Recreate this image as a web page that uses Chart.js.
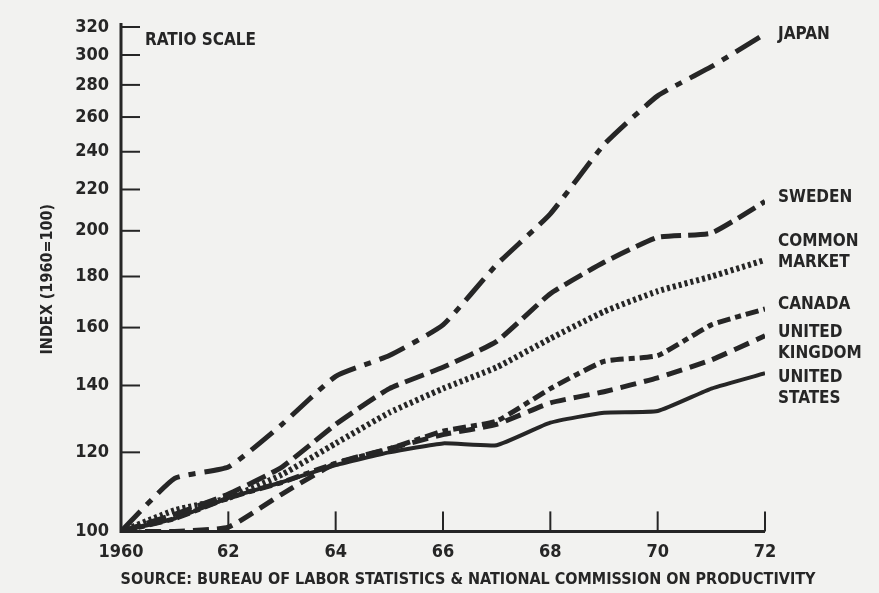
<!DOCTYPE html>
<html>
<head>
<meta charset="utf-8">
<script src="https://cdn.jsdelivr.net/npm/chart.js@4/dist/chart.umd.min.js"></script>
<style>
  body { margin: 0; background: #f2f2f0; }
  #wrap { width: 879px; height: 593px; position: relative; }
</style>
</head>
<body>
<div id="wrap"><canvas id="my-chart"></canvas></div>
<script>
const years = [1960, 1961, 1962, 1963, 1964, 1965, 1966, 1967, 1968, 1969, 1970, 1971, 1972];
const japan = [100, 113, 116, 128, 143, 150, 161, 185, 208, 244, 273, 292, 315];
const sweden = [100, 104, 109, 116, 128, 139, 146, 155, 173, 186, 197, 199, 214];
const commonMarket = [100, 105, 108, 114, 122.5, 131.5, 139, 146, 156, 166, 174, 180, 187];
const canada = [100, 103, 108, 112, 117, 121, 126, 129, 139, 148, 150, 161, 167];
const unitedKingdom = [100, 100, 101, 109, 117, 121, 125, 128, 134.5, 138, 142.5, 148.5, 157];
const unitedStates = [100, 103, 108, 112, 116.5, 120, 122.5, 122, 128.5, 131.5, 132, 139, 144];
const yTicks = [100, 120, 140, 160, 180, 200, 220, 240, 260, 280, 300, 320];
const xTicks = [1960, 1962, 1964, 1966, 1968, 1970, 1972];
const xTickLabels = ['1960', '62', '64', '66', '68', '70', '72'];
const seriesLabels = [['JAPAN'], ['SWEDEN'], ['COMMON', 'MARKET'], ['CANADA'], ['UNITED', 'KINGDOM'], ['UNITED', 'STATES']];

const ink = '#262626';
const fontFam = "'Liberation Sans Narrow', 'DejaVu Sans Condensed', Arial, sans-serif";

function pts(arr) {
  return arr.map((v, i) => ({ x: years[i], y: v }));
}

function ds(arr, dash, width) {
  return {
    data: pts(arr),
    borderColor: ink,
    borderWidth: width,
    borderDash: dash,
    borderCapStyle: 'butt',
    pointRadius: 0,
    tension: 0.15,
    fill: false
  };
}

// label offsets from the end of each line (pixels)
const labelNudge = [1, -4, -8, -4, 7, 15];

const decorPlugin = {
  id: 'decor',
  afterDraw(chart) {
    const ctx = chart.ctx;
    const xs = chart.scales.x, ys = chart.scales.y;
    const area = chart.chartArea;
    ctx.save();
    ctx.strokeStyle = ink;
    ctx.lineWidth = 2;
    // inward tick marks
    yTicks.forEach(v => {
      const py = ys.getPixelForValue(v);
      ctx.beginPath();
      ctx.moveTo(area.left, py);
      ctx.lineTo(area.left + 19, py);
      ctx.stroke();
    });
    xTicks.forEach(v => {
      const px = xs.getPixelForValue(v);
      ctx.beginPath();
      ctx.moveTo(px, area.bottom);
      ctx.lineTo(px, area.bottom - 20);
      ctx.stroke();
    });
    // axis lines
    ctx.lineWidth = 3;
    ctx.beginPath();
    ctx.moveTo(area.left, area.top - 4);
    ctx.lineTo(area.left, area.bottom);
    ctx.lineTo(area.right, area.bottom);
    ctx.stroke();

    ctx.fillStyle = ink;
    ctx.font = 'bold 17px ' + fontFam;
    ctx.textBaseline = 'middle';
    ctx.textAlign = 'left';
    // line labels at the right end
    chart.data.datasets.forEach((d, i) => {
      const last = d.data[d.data.length - 1];
      const py = ys.getPixelForValue(last.y) + labelNudge[i];
      const lines = seriesLabels[i];
      const startY = py - (lines.length - 1) * 21 / 2;
      lines.forEach((t, k) => ctx.fillText(t, area.right + 13, startY + k * 21));
    });
    ctx.fillText('RATIO SCALE', area.left + 24, 41);
    ctx.font = 'bold 16px ' + fontFam;
    ctx.textAlign = 'center';
    ctx.fillText('SOURCE: BUREAU OF LABOR STATISTICS & NATIONAL COMMISSION ON PRODUCTIVITY', 468, 580);
    ctx.restore();
  }
};

const ctx = document.getElementById('my-chart').getContext('2d');
const chart = new Chart(ctx, {
  type: 'line',
  data: {
    datasets: [
      ds(japan, [28, 9, 7, 9], 5),
      ds(sweden, [20, 7], 5),
      ds(commonMarket, [3, 3], 6),
      ds(canada, [13, 5, 6, 5], 5),
      ds(unitedKingdom, [16, 8], 5),
      ds(unitedStates, [], 4)
    ]
  },
  options: {
    responsive: true,
    maintainAspectRatio: false,
    animation: false,
    layout: { padding: { top: 27, right: 114, bottom: 20, left: 38 } },
    plugins: { legend: { display: false }, tooltip: { enabled: false } },
    scales: {
      x: {
        type: 'linear',
        min: 1960,
        max: 1972,
        afterBuildTicks: s => { s.ticks = xTicks.map(v => ({ value: v })); },
        ticks: {
          color: ink,
          font: { family: fontFam, size: 18, weight: 'bold' },
          padding: 10,
          maxRotation: 0,
          callback: (v) => xTickLabels[xTicks.indexOf(v)]
        },
        grid: { display: false, drawTicks: false },
        border: { display: false }
      },
      y: {
        type: 'logarithmic',
        min: 100,
        max: 320,
        afterBuildTicks: s => { s.ticks = yTicks.map(v => ({ value: v })); },
        afterFit: s => { s.width = 83; },
        ticks: {
          color: ink,
          font: { family: fontFam, size: 18, weight: 'bold' },
          padding: 12,
          autoSkip: false,
          callback: v => String(v)
        },
        title: {
          display: true,
          text: 'INDEX (1960=100)',
          color: ink,
          font: { family: fontFam, size: 16, weight: 'bold' },
          padding: { top: 0, bottom: 10 }
        },
        grid: { display: false, drawTicks: false },
        border: { display: false }
      }
    }
  },
  plugins: [decorPlugin]
});
</script>
</body>
</html>
